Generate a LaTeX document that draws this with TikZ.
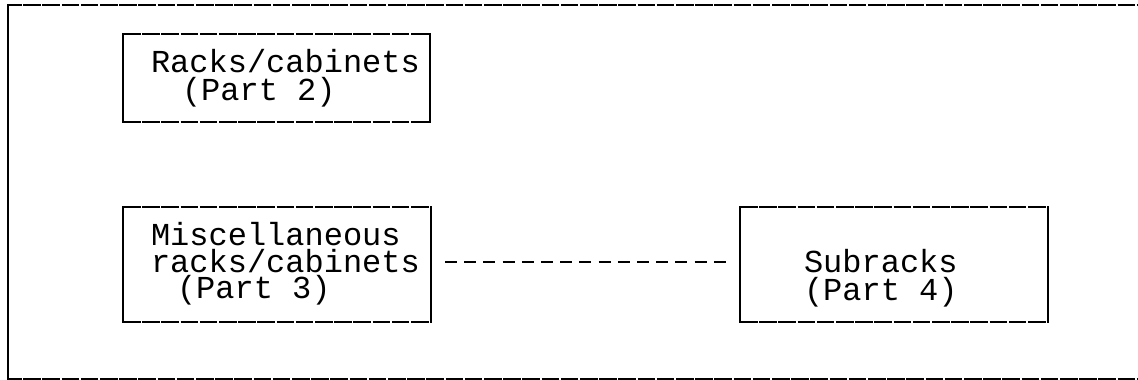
\documentclass[tikz,border=0pt]{standalone}
\usepackage{fontspec}
\setmonofont{Liberation Mono}
\begin{document}
\begin{tikzpicture}[x=1pt,y=-1pt]
  \tikzset{
    every node/.style={inner sep=0pt,outer sep=0pt},
    box/.style={rectangle,minimum width=308pt,minimum height=115pt},
    txt/.style={anchor=base west,font=\ttfamily\fontsize{32}{32}\selectfont},
    rule/.style={line width=2.4pt,dash pattern=on 17.5pt off 1.7pt},
    bar/.style={line width=2.8pt,line cap=rect},
    link/.style={line width=2pt,dash pattern=on 12pt off 7.2pt}
  }
  \useasboundingbox (0,0) rectangle (1138,380);

  \coordinate (tl) at (8,5);
  \coordinate (bl) at (8,379);
  \coordinate (tr) at (1140,5);
  \coordinate (br) at (1140,379);
  \draw[rule,dash phase=4pt] (tl) -- (tr) (bl) -- (br);
  \draw[bar] (tl) -- (bl);

  \node[box,minimum width=307pt,minimum height=88pt] (racks) at (276.5,78) {};
  \node[box] (misc) at (277,264.5) {};
  \node[box] (sub) at (894,264.5) {};

  \foreach \n in {racks,misc,sub}{
    \draw[rule] (\n.north west) -- (\n.north east) (\n.south west) -- (\n.south east);
    \draw[bar] (\n.north west) -- (\n.south west) (\n.north east) -- (\n.south east);
  }

  \node[txt] (r1) at (151,72) {Racks/cabinets};
  \node[txt] (r2) at (182,100) {(Part 2)};
  \node[txt] (m1) at (151,245) {Miscellaneous};
  \node[txt] (m2) at (151,272) {racks/cabinets};
  \node[txt] (m3) at (177,298) {(Part 3)};
  \node[txt] (s1) at (804,272) {Subracks};
  \node[txt] (s2) at (804,300) {(Part 4)};

  \draw[link,shorten <=14pt,shorten >=13pt] ([yshift=2.5pt]misc.east) -- ([yshift=2.5pt]sub.west);
\end{tikzpicture}
\end{document}
